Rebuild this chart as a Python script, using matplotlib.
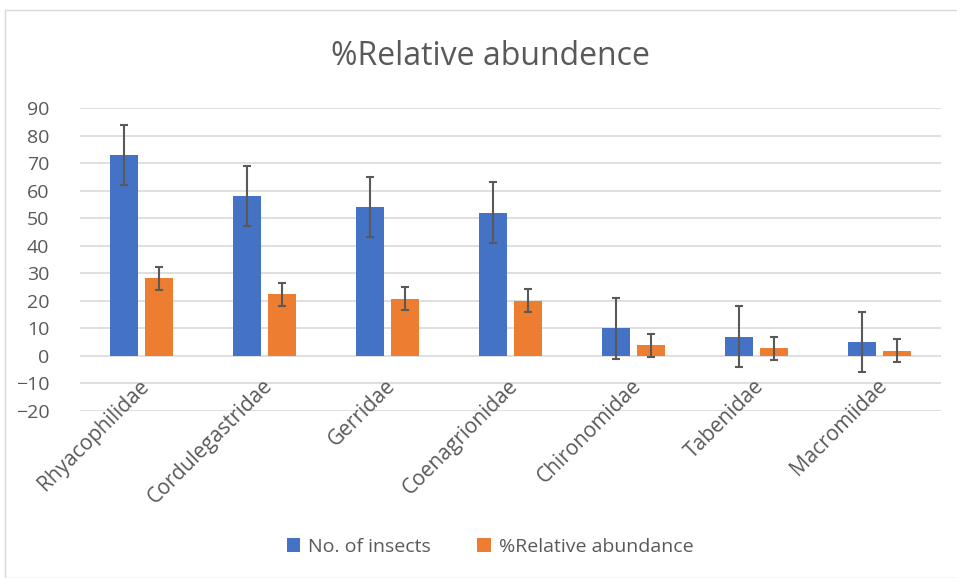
import matplotlib.pyplot as plt
import numpy as np

# datos
familias = ["Rhyacophilidae", "Cordulegastridae", "Gerridae", "Coenagrionidae",
            "Chironomidae", "Tabenidae", "Macromiidae"]
num_insectos = [73, 58, 54, 52, 10, 7, 5]
abundancia_rel = [28.2, 22.4, 20.8, 20.1, 3.9, 2.7, 1.9]
err_insectos = [11, 11, 11, 11, 11, 11, 11]
err_abundancia = [4.2, 4.2, 4.2, 4.2, 4.2, 4.2, 4.2]

azul = "#4472C4"
naranja = "#ED7D31"
gris = "#595959"

plt.rcParams['font.family'] = ['Open Sans', 'DejaVu Sans']

fig = plt.figure(figsize=(9.57, 5.78), dpi=100)
ax = fig.add_axes([80/957, 1 - 411/578, 861/957, 303/578])

x = np.arange(len(familias))
ancho = 0.224
desp = 0.141

ax.bar(x - desp, num_insectos, ancho, color=azul, label="No. of insects", zorder=2)
ax.bar(x + desp, abundancia_rel, ancho, color=naranja, label="%Relative abundance", zorder=2)
ax.errorbar(x - desp, num_insectos, yerr=err_insectos, fmt="none", ecolor=gris,
            elinewidth=1.5, capsize=3, capthick=1.5, zorder=3)
ax.errorbar(x + desp, abundancia_rel, yerr=err_abundancia, fmt="none", ecolor=gris,
            elinewidth=1.5, capsize=3, capthick=1.5, zorder=3)

ax.set_ylim(-20, 90)
ax.set_xlim(-0.5, len(familias) - 0.5)
ax.set_yticks(range(-20, 91, 10))
ax.yaxis.grid(True, color="#D9D9D9", linewidth=1.2, zorder=0)
ax.set_axisbelow(True)
for s in ax.spines.values():
    s.set_visible(False)
ax.tick_params(axis="y", length=0, labelsize=14, labelcolor=gris, pad=22)
ax.set_xticks([])

# etiquetas de categoria colgando del eje en 0
for i, nombre in enumerate(familias):
    ax.annotate(nombre, xy=(i, 0), xytext=(-2, -14), textcoords="offset points",
                rotation=45, rotation_mode="anchor", ha="right", va="top",
                fontsize=15, color=gris)

fig.text(0.512, 0.903, "%Relative abundence", ha="center", va="center",
         fontsize=23, color=gris)

fig.legend(loc="center", bbox_to_anchor=(0.512, 1 - 547/578), ncol=2, frameon=False,
           fontsize=14, labelcolor=gris, handlelength=0.7, handleheight=0.7,
           columnspacing=2.4, handletextpad=0.4)

# borde del grafico
borde = plt.Rectangle((5/957, 0), 1, 1 - 10/578, transform=fig.transFigure,
                      fill=False, edgecolor="#D9D9D9", linewidth=1)
fig.patches.append(borde)

fig.savefig("out.png", dpi=100)
